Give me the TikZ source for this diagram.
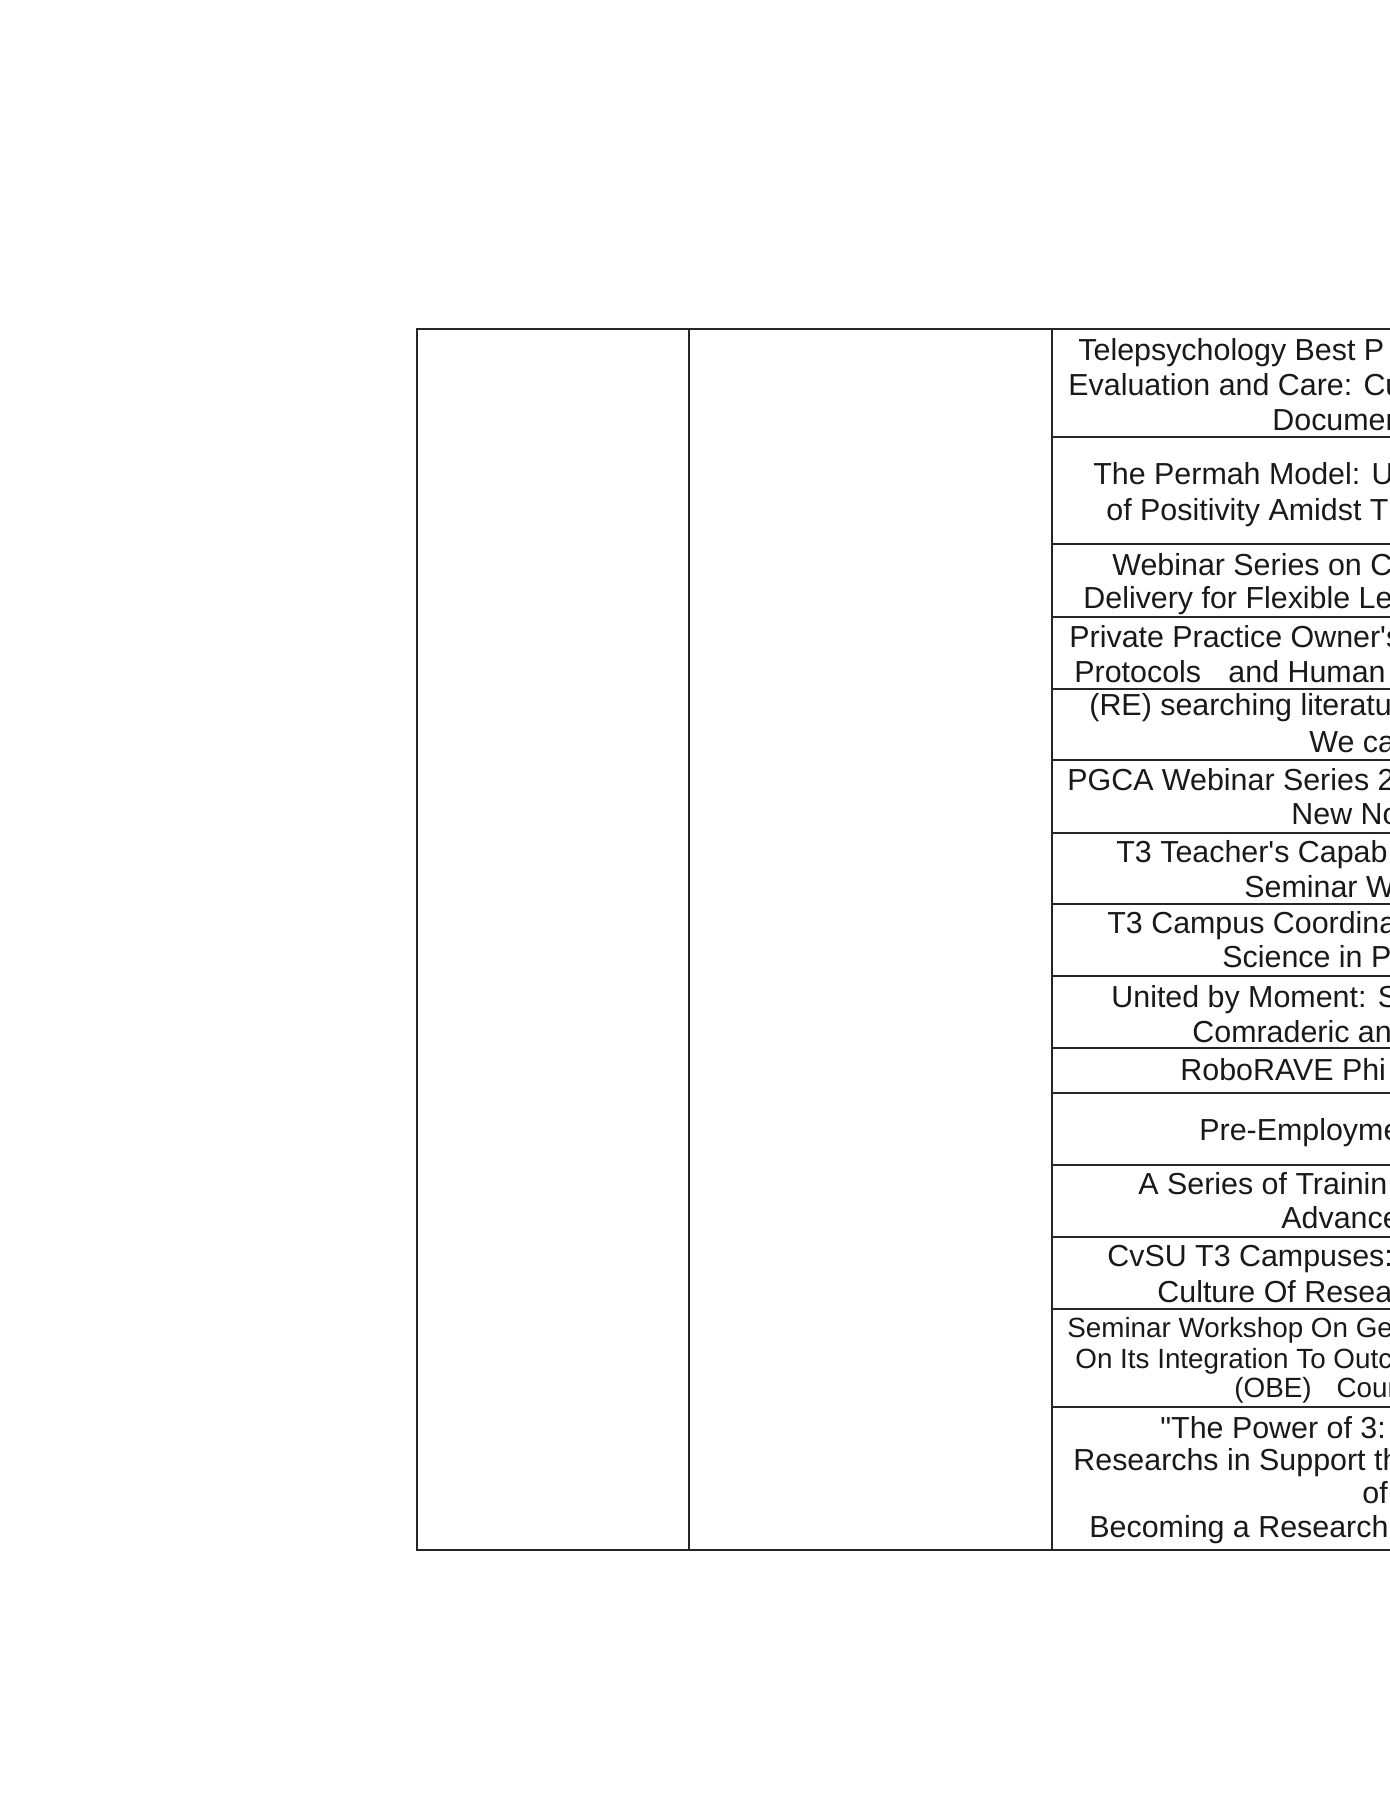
\documentclass[tikz,border=0pt]{standalone}
\usepackage{fontspec}
\setmainfont{Liberation Sans}
\usepackage{tikz}

\begin{document}
\begin{tikzpicture}[x=0.5pt,y=-0.5pt,
    rule/.style={line width=0.8pt, black!85},
    entry/.style={anchor=base west, inner sep=0pt, text=black!90,
        font=\fontsize{15.2}{18}\selectfont},
    smallentry/.style={entry, font=\fontsize{13.9}{16}\selectfont}]
    % Fix the page
    \useasboundingbox (0,0) rectangle (1390,1800);
    \clip (0,0) rectangle (1390,1800);

    % Draw the frame and the columns
    \draw[rule] (1390,329) -- (417,329) -- (417,1550) -- (1390,1550);
    \foreach \x in {689,1052}
        \draw[rule] (\x,329) -- (\x,1550);

    % Draw the row lines of the third column
    \foreach \y in {437,544,617,689,760,833,904,976,1048,1093,1165,1237,1309,1407}
        \draw[rule] (1052,\y) -- (1390,\y);

    % Label the entries
    \node[entry] (telea) at (1078,360) {Telepsychology Best P};
    \node[entry] (teleb) at (1068,395) {Evaluation and Care: Cu};
    \node[entry] (telec) at (1272,430) {Documen};

    \node[entry] (permaha) at (1093,484) {The Permah Model: U};
    \node[entry] (permahb) at (1106,520) {of Positivity Amidst T};

    \node[entry] (webinara) at (1112,575) {Webinar Series on C};
    \node[entry] (webinarb) at (1083,608) {Delivery for Flexible Le};

    \node[entry] (privatea) at (1069,647) {Private Practice Owner\textquotesingle s};
    \node[entry] (privateb) at (1074,682) {Protocols\hspace{0.9em}and Human};

    \node[entry] (searcha) at (1089,715) {(RE) searching literatu};
    \node[entry] (searchb) at (1309,752) {We ca};

    \node[entry] (pgcaa) at (1067,790) {PGCA Webinar Series 2};
    \node[entry] (pgcab) at (1291,824) {New No};

    \node[entry] (teachera) at (1116,862) {T3 Teacher\textquotesingle s Capab};
    \node[entry] (teacherb) at (1244,897) {Seminar W};

    \node[entry] (campusa) at (1107,933) {T3 Campus Coordina};
    \node[entry] (campusb) at (1222,967) {Science in P};

    \node[entry] (uniteda) at (1111,1007) {United by Moment: S};
    \node[entry] (unitedb) at (1192,1042) {Comraderic an};

    \node[entry] (robo) at (1180,1080) {RoboRAVE Phi};

    \node[entry] (preemp) at (1199,1140) {Pre-Employme};

    \node[entry] (trainga) at (1138,1194) {A Series of Trainin};
    \node[entry] (traingb) at (1281,1228) {Advance};

    \node[entry] (cvsua) at (1107,1266) {CvSU T3 Campuses:};
    \node[entry] (cvsub) at (1157,1302) {Culture Of Resea};

    \node[smallentry] (gena) at (1067,1337) {Seminar Workshop On Ge};
    \node[smallentry] (genb) at (1075,1368) {On Its Integration To Outc};
    \node[smallentry] (genc) at (1234,1397) {(OBE)\hspace{0.9em}Cour};

    \node[entry] (powera) at (1160,1438) {\textquotedbl The Power of 3:};
    \node[entry] (powerb) at (1073,1470) {Researchs in Support th};
    \node[entry] (powerc) at (1362,1503) {of};
    \node[entry] (powerd) at (1089,1537) {Becoming a Research};
\end{tikzpicture}
\end{document}
